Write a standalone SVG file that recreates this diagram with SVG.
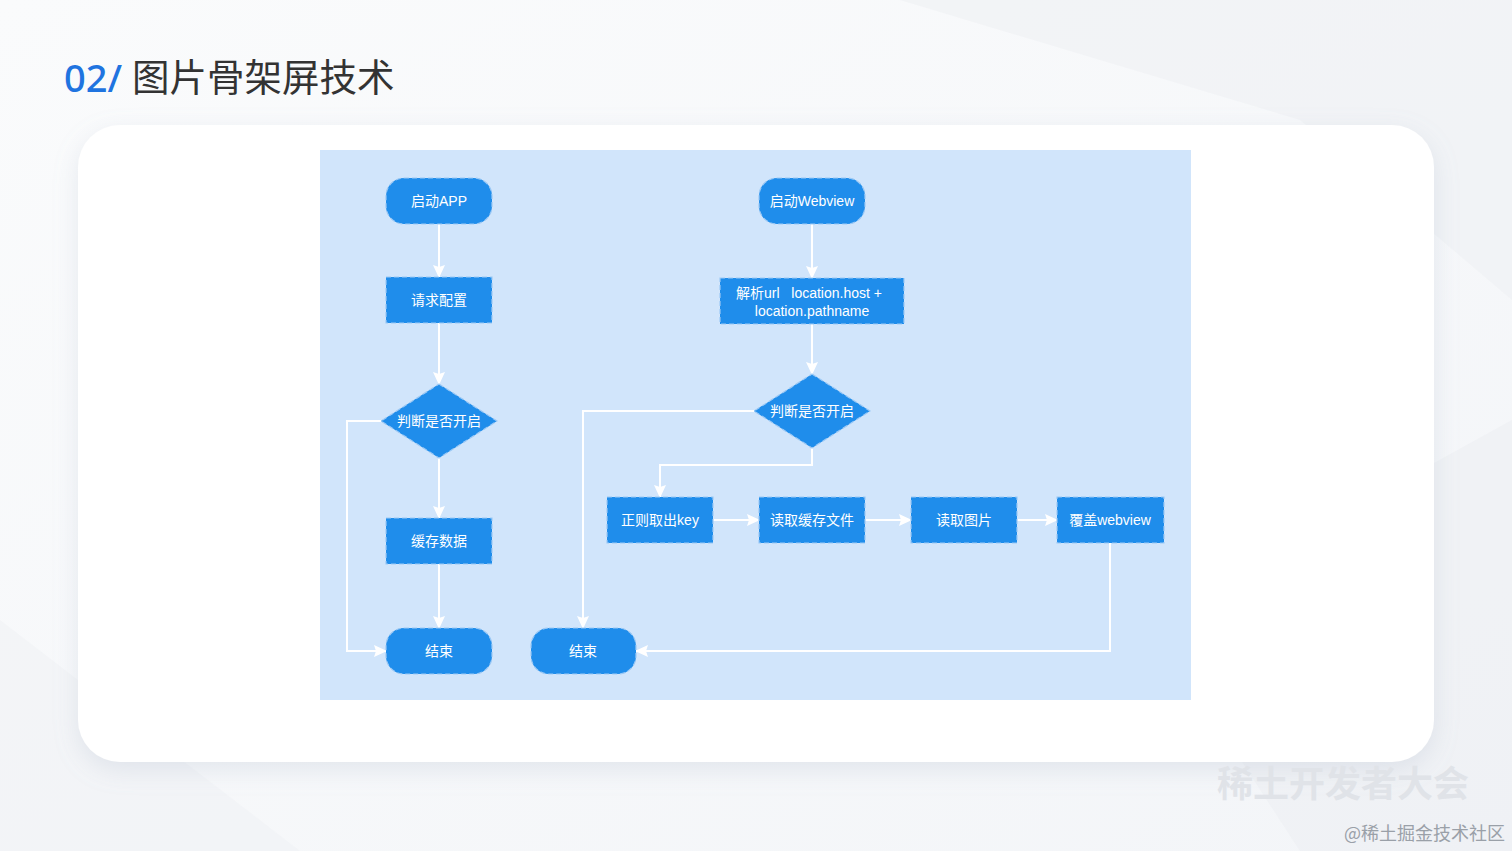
<svg xmlns="http://www.w3.org/2000/svg" width="1512" height="851" viewBox="0 0 1512 851">
<defs>
<style>
.node{fill:#1f8deb;stroke:#9cc9f5;stroke-width:1.2;stroke-dasharray:5 3}
.lbl{fill:#ffffff;font-family:"Liberation Sans","Noto Sans CJK SC",sans-serif;font-size:14px;text-anchor:middle;dominant-baseline:central}
.edge{fill:none;stroke:#ffffff;stroke-width:2}
</style>
<marker id="arr" viewBox="0 0 13 12" refX="12" refY="6" markerWidth="13" markerHeight="12" markerUnits="userSpaceOnUse" orient="auto">
<path d="M0,0 L13,6 L0,12 L2,6 Z" fill="#ffffff"/>
</marker>
<filter id="sh" x="-10%" y="-10%" width="120%" height="130%">
<feDropShadow dx="0" dy="8" stdDeviation="12" flood-color="#9aa8c0" flood-opacity="0.22"/>
</filter>
<linearGradient id="bg" x1="0" y1="0" x2="1" y2="1">
<stop offset="0" stop-color="#fafbfc"/>
<stop offset="1" stop-color="#f3f5f8"/>
</linearGradient>
</defs>
<rect x="0" y="0" width="1512" height="851" fill="url(#bg)"/>
<path d="M900,0 L1512,0 L1512,300 L1300,120 Z" fill="#eef0f3" opacity="0.6"/>
<path d="M1150,620 L1512,420 L1512,851 L1300,851 Z" fill="#eceef2" opacity="0.5"/>
<path d="M0,620 L300,851 L0,851 Z" fill="#f0f2f5" opacity="0.6"/>
<rect x="78" y="125" width="1356" height="637" rx="42" fill="#ffffff" filter="url(#sh)"/>
<g id="title">
<text x="64" y="92" font-family="'Noto Sans','Noto Sans CJK SC',sans-serif" font-size="38" font-weight="500" fill="#1f74e0">02/</text>
<text x="132" y="91" font-family="'Noto Sans CJK SC',sans-serif" font-size="37.5" fill="#333333">图片骨架屏技术</text>
</g>
<rect x="320" y="150" width="871" height="550" fill="#d1e5fb"/>
<g id="connectors">
<path class="edge" d="M439,224 V277" marker-end="url(#arr)"/>
<path class="edge" d="M439,323 V384" marker-end="url(#arr)"/>
<path class="edge" d="M439,458 V518" marker-end="url(#arr)"/>
<path class="edge" d="M439,564 V628" marker-end="url(#arr)"/>
<path class="edge" d="M381,421 H347 V651 H386" marker-end="url(#arr)"/>
<path class="edge" d="M812,224 V278" marker-end="url(#arr)"/>
<path class="edge" d="M812,324 V374" marker-end="url(#arr)"/>
<path class="edge" d="M812,448 V465 H660 V497" marker-end="url(#arr)"/>
<path class="edge" d="M754,411 H583 V628" marker-end="url(#arr)"/>
<path class="edge" d="M713,520 H759" marker-end="url(#arr)"/>
<path class="edge" d="M865,520 H911" marker-end="url(#arr)"/>
<path class="edge" d="M1017,520 H1057" marker-end="url(#arr)"/>
<path class="edge" d="M1110,543 V651 H636" marker-end="url(#arr)"/>
</g>
<g id="n-start-app"><rect class="node" x="386" y="178" width="106" height="46" rx="18"/><text class="lbl" x="439" y="201">启动APP</text></g>
<g id="n-req-config"><rect class="node" x="386" y="277" width="106" height="46"/><text class="lbl" x="439" y="300">请求配置</text></g>
<g id="n-judge-left"><polygon class="node" points="439,384 497,421 439,458 381,421"/><text class="lbl" x="439" y="421">判断是否开启</text></g>
<g id="n-cache-data"><rect class="node" x="386" y="518" width="106" height="46"/><text class="lbl" x="439" y="541">缓存数据</text></g>
<g id="n-end-left"><rect class="node" x="386" y="628" width="106" height="46" rx="18"/><text class="lbl" x="439" y="651">结束</text></g>
<g id="n-start-webview"><rect class="node" x="759" y="178" width="106" height="46" rx="18"/><text class="lbl" x="812" y="201">启动Webview</text></g>
<g id="n-parse-url"><rect class="node" x="720" y="278" width="184" height="46"/><text class="lbl" x="809" y="293" xml:space="preserve">解析url   location.host +</text><text class="lbl" x="812" y="311">location.pathname</text></g>
<g id="n-judge-right"><polygon class="node" points="812,374 870,411 812,448 754,411"/><text class="lbl" x="812" y="411">判断是否开启</text></g>
<g id="n-regex-key"><rect class="node" x="607" y="497" width="106" height="46"/><text class="lbl" x="660" y="520">正则取出key</text></g>
<g id="n-read-cache"><rect class="node" x="759" y="497" width="106" height="46"/><text class="lbl" x="812" y="520">读取缓存文件</text></g>
<g id="n-read-img"><rect class="node" x="911" y="497" width="106" height="46"/><text class="lbl" x="964" y="520">读取图片</text></g>
<g id="n-cover-webview"><rect class="node" x="1057" y="497" width="107" height="46"/><text class="lbl" x="1110" y="520">覆盖webview</text></g>
<g id="n-end-right"><rect class="node" x="531" y="628" width="105" height="46" rx="18"/><text class="lbl" x="583" y="651">结束</text></g>
<g id="watermark">
<text x="1343" y="797" font-family="'Noto Sans CJK SC',sans-serif" font-size="36" font-weight="bold" fill="#e0e3e8" text-anchor="middle">稀土开发者大会</text>
<text x="1505" y="840" font-family="'Noto Sans CJK SC',serif" font-size="18" fill="#9aa0a8" text-anchor="end">@稀土掘金技术社区</text>
</g>
</svg>
